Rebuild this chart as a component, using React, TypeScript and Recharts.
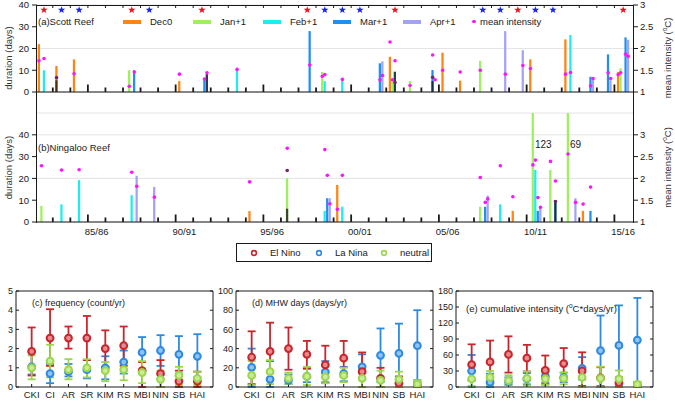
import React from 'react';
import {
  ComposedChart, ScatterChart, Bar, Cell, Scatter, XAxis, YAxis,
  CartesianGrid, LabelList, ErrorBar,
} from 'recharts';

const FONT = '"Liberation Sans", Arial, Helvetica, sans-serif';
const INK = '#1a1a1a';

// seasons counted from 1982/83 (0) to 2015/16 (33)
const FIRST_SEASON = 1982;
const MONTHS = ['Dec0', 'Jan+1', 'Feb+1', 'Mar+1', 'Apr+1'];
const MONTH_COLORS = ['#ff8412', '#9ef05c', '#1aeef0', '#1f8ff0', '#a2a2f6'];

const EL_NINO_SEASONS = [0, 5, 9, 15, 20, 27, 33];
const LA_NINA_SEASONS = [1, 2, 6, 16, 17, 18, 25, 26, 28, 29];

// Scott Reef, [season, duration days]
const scottDec = [[0, 22], [1, 12], [2, 15], [8, 5], [20, 16.2], [23, 18.1], [24, 5.2], [28, 15], [30, 24.2], [33, 9.2]];
const scottJan = [[5, 10], [16, 9.2], [20, 5], [21, 5], [25, 14.3], [33, 10.9]];
const scottFeb = [[0, 10], [11, 10.5], [16, 5], [17, 5.8], [20, 9.3], [30, 26.2]];
const scottMar = [[5, 10], [9, 6.5], [15, 28], [19, 13.2], [22, 10.1], [31, 7], [32, 17.3], [33, 25.1]];
const scottApr = [[9, 8.2], [19, 14.1], [26, 28], [27, 19.2], [31, 6.3], [32, 5.4], [33, 24]];
// [season, month, days]
const scottDark = [[1, 0, 5.4], [9, 4, 8.2], [20, 2, 9.3], [22, 3, 5]];
// [season, month, mean intensity degC]
const scottIntensity = [
  [0, 0, 1.72], [0, 2, 1.77], [2, 0, 1.42], [5, 1, 1.13], [5, 3, 1.46], [8, 0, 1.41], [9, 3, 1.3], [9, 4, 1.44],
  [11, 2, 1.52], [15, 3, 1.62], [16, 1, 1.36], [16, 2, 1.4], [17, 2, 1.29], [19, 3, 1.28], [19, 4, 1.38],
  [20, 0, 2.15], [20, 1, 1.28], [20, 2, 1.72], [21, 1, 1.15], [22, 3, 1.85], [22, 4, 1.28], [23, 0, 1.5],
  [24, 0, 1.46], [25, 1, 1.5], [26, 4, 1.41], [27, 4, 1.61], [28, 0, 1.54], [30, 0, 1.41], [30, 2, 1.45],
  [31, 3, 1.14], [31, 4, 1.31], [32, 3, 1.44], [32, 4, 1.31], [33, 0, 1.4], [33, 1, 1.44], [33, 3, 1.87], [33, 4, 1.82],
];
const scottIntensityDark = [[1, 0, 1.33], [20, 2, 1.22], [22, 3, 1.34]];

// Ningaloo Reef
const ningDec = [[12, 5], [17, 17], [27, 5.1], [31, 5.1]];
const ningJan = [[0, 7.4], [14, 20], [25, 7], [28, 123], [29, 23.9], [30, 69]];
const ningFeb = [[1, 8.1], [2, 19.2], [5, 12.3], [16, 5.1], [17, 7], [26, 8.1], [28, 23.9]];
const ningMar = [[16, 10.9], [25, 7], [28, 5.1], [29, 10.1], [31, 5.1]];
const ningApr = [[5, 21.2], [6, 16.1], [16, 10.9], [25, 12.1], [28, 6.6], [30, 10.9]];
const ningDark = [[14, 1, 6.1], [29, 3, 10.1]];
const ningIntensity = [
  [0, 1, 2.29], [1, 2, 2.19], [2, 2, 2.2], [5, 2, 2.14], [5, 4, 1.82], [6, 4, 1.57], [12, 0, 1.92], [14, 1, 2.69],
  [16, 2, 2.66], [16, 3, 2.07], [16, 4, 1.42], [17, 0, 1.29], [17, 2, 2.07], [25, 1, 2.02], [25, 3, 1.45],
  [25, 4, 1.53], [26, 2, 2.29], [27, 0, 1.58], [28, 1, 2.31], [28, 2, 2.42], [28, 3, 1.56], [28, 4, 1.34],
  [29, 1, 2.39], [29, 3, 1.94], [30, 1, 2.56], [30, 4, 1.45], [31, 0, 1.41], [31, 3, 1.8],
];
const ningIntensityDark = [[14, 1, 2.18], [29, 3, 1.47]];

// lower panels
const SITES = ['CKI', 'CI', 'AR', 'SR', 'KIM', 'RS', 'MBI', 'NIN', 'SB', 'HAI'];

const freqElNino = [1.85, 2.55, 2.55, 2.55, 2.0, 2.15, 0.85, 0.7, 0.3, 0.3];
const freqElNinoLow = [0.6, 1.1, 2.0, 1.4, 1.05, 1.1, 0, 0, 0, 0];
const freqElNinoHigh = [3.1, 4.05, 3.15, 3.7, 2.95, 3.15, 1.3, 1.4, 0.85, 0.8];
const freqLaNina = [1.05, 0.7, 0.8, 0.9, 1.0, 1.3, 1.8, 1.9, 1.7, 1.6];
const freqLaNinaLow = [0.65, 0.2, 0.55, 0.45, 0.4, 0.7, 0.85, 1.1, 0.7, 0.5];
const freqLaNinaHigh = [1.85, 1.2, 1.2, 1.4, 1.6, 1.9, 2.6, 2.7, 2.65, 2.75];
const freqNeutral = [1.0, 1.35, 0.9, 1.0, 0.85, 0.9, 0.75, 0.4, 0.6, 0.45];
const freqNeutralLow = [0.4, 0.5, 0.4, 0.5, 0.3, 0.35, 0.2, 0, 0.1, 0.1];
const freqNeutralHigh = [1.65, 2.2, 1.45, 1.45, 1.3, 1.3, 1.35, 0.85, 1.05, 0.8];

const daysElNino = [31, 37, 40, 34, 23, 30, 16, 9, 4, 2];
const daysElNinoLow = [3, 8, 18, 19, 4, 11, 0, 0, 0, 0];
const daysElNinoHigh = [58, 67, 62, 48, 43, 48, 36, 20, 11, 5];
const daysLaNina = [20.5, 8, 7, 11, 15.5, 14, 21, 33, 35, 43];
const daysLaNinaLow = [0, 0, 3, 5, 5, 6, 8, 5, 5, 7];
const daysLaNinaHigh = [40, 27, 13, 20, 27, 21, 34, 61, 66, 80];
const daysNeutral = [12, 16, 9, 11, 10.5, 12, 9, 7, 8, 3];
const daysNeutralLow = [2, 3, 3, 2, 4, 5, 0, 0, 0, 0];
const daysNeutralHigh = [27, 28, 15, 21, 17, 20, 19, 17, 16, 7];

const cumElNino = [42, 47, 61, 54, 31, 44, 30, 17, 8, 2];
const cumElNinoLow = [12, 8, 27, 29, 5, 17, 2, 0, 0, 0];
const cumElNinoHigh = [80, 87, 95, 79, 59, 73, 65, 37, 18, 6];
const cumLaNina = [30, 9, 10, 15, 20, 18, 35, 68, 78, 88];
const cumLaNinaLow = [0, 0, 4, 5, 8, 9, 14, 2, 2, 9];
const cumLaNinaHigh = [60, 25, 18, 26, 34, 27, 56, 134, 153, 167];
const cumNeutral = [15, 18, 12, 16, 15, 16, 18, 16, 15, 5];
const cumNeutralLow = [2, 4, 4, 3, 4, 5, 0, 0, 0, 0];
const cumNeutralHigh = [30, 30, 22, 29, 27, 27, 36, 38, 31, 10];

const EN_COLOR = '#c8262c';
const LN_COLOR = '#2d8ae0';
const NEU_COLOR = '#9bd64c';

// ---------- helpers ----------
const X_DOMAIN: [number, number] = [-0.4, 33.56];
const PX_PER_SEASON = 596 / (X_DOMAIN[1] - X_DOMAIN[0]);
const BOUNDARIES = Array.from({ length: 33 }, (_, i) => i + 0.5);
const slotX = (season: number, month: number) => season + (month - 2) / 7;
const yy = (n: number) => String(n % 100).padStart(2, '0');
const seasonLabel = (k: number) => `${yy(FIRST_SEASON + k)}/${yy(FIRST_SEASON + k + 1)}`;

const buildRows = (months: number[][][], dark: number[][]) => {
  const rows: any[] = [];
  months.forEach((list, m) => list.forEach(([s, d]) => rows.push({ x: slotX(s, m), days: d, fill: MONTH_COLORS[m], op: 1 })));
  dark.forEach(([s, m, d]) => rows.push({ x: slotX(s, m), days: d, fill: '#111111', op: 0.75 }));
  return rows;
};
const buildDots = (list: number[][]) => list.map(([s, m, v]) => ({ x: slotX(s, m), v }));

const scottRows = buildRows([scottDec, scottJan, scottFeb, scottMar, scottApr], scottDark);
const ningRows = buildRows([ningDec, ningJan, ningFeb, ningMar, ningApr], ningDark);

const YearTick = (props: any) => {
  const { x, y, payload, topY, withLabel } = props;
  const k = Math.round(payload.value + 0.5);
  const major = k % 5 === 3;
  return (
    <g>
      <line x1={x} x2={x} y1={y} y2={y - (major ? 7.5 : 4.5)} stroke={INK} strokeWidth={1.8} />
      {topY != null && <line x1={x} x2={x} y1={topY} y2={topY + 3} stroke={INK} strokeWidth={1} />}
      {withLabel && major && (
        <text x={x + PX_PER_SEASON / 2} y={y + 13} textAnchor="middle" fontSize={9.5} fontFamily={FONT} fill={INK}>
          {seasonLabel(k)}
        </text>
      )}
    </g>
  );
};

const MagentaDot = (p: any) => <circle cx={p.cx} cy={p.cy} r={1.8} fill={p.color} />;

const Star = (p: any) => {
  const pts: string[] = [];
  for (let i = 0; i < 10; i++) {
    const r = i % 2 === 0 ? 3.8 : 1.6;
    const a = -Math.PI / 2 + (i * Math.PI) / 5;
    pts.push(`${p.cx + r * Math.cos(a)},${p.cy + r * Math.sin(a)}`);
  }
  return <polygon points={pts.join(' ')} fill={p.color} />;
};

const RotTitle = (props: any) => {
  const { viewBox, dx, dy, right } = props;
  const cx = viewBox.x + dx;
  const cy = viewBox.y + viewBox.height / 2 + dy;
  return (
    <text x={cx} y={cy} transform={`rotate(-90 ${cx} ${cy})`} textAnchor="middle" dominantBaseline="central"
      fontSize={9.5} fontFamily={FONT} fill="#333">
      {right ? (
        <>
          <tspan>mean intensity (</tspan>
          <tspan dy={-3} fontSize={6.5}>o</tspan>
          <tspan dy={3}>C)</tspan>
        </>
      ) : 'duration (days)'}
    </text>
  );
};

const tickStyle = { fontSize: 9.5, fill: INK, fontFamily: FONT };

function ReefPanel(props: any) {
  const { rows, dots, darkDots, top, height, marginTop, xHeight, yMax, rMax, stars, labels, titleDy } = props;
  const starData = [
    ...EL_NINO_SEASONS.map((s) => ({ x: s, y: 37.7, c: '#e8141e' })),
    ...LA_NINA_SEASONS.map((s) => ({ x: s, y: 37.7, c: '#1a22ee' })),
  ];
  return (
    <div style={{ position: 'absolute', left: 0, top, width: 675, height }}>
      <ComposedChart width={675} height={height} data={rows} margin={{ top: marginTop, right: 0, bottom: 0, left: 0 }}>
        <CartesianGrid vertical={false} stroke="#e4e4e4" />
        <XAxis type="number" dataKey="x" domain={X_DOMAIN} allowDataOverflow ticks={BOUNDARIES} interval={0}
          height={xHeight} tickSize={0} tickMargin={0} tickLine={false} axisLine={{ stroke: INK }}
          tick={<YearTick topY={stars ? marginTop : undefined} withLabel={labels} />} />
        <YAxis type="number" domain={[0, yMax]} allowDataOverflow ticks={[0, 10, 20, 30, 40]} width={37}
          tickSize={5} tickMargin={3} axisLine={false} tickLine={{ stroke: INK }} tick={tickStyle}
          label={<RotTitle dx={8} dy={titleDy} />} />
        <YAxis yAxisId="r" orientation="right" type="number" domain={[1, rMax]} allowDataOverflow
          ticks={[1, 1.5, 2, 2.5, 3]} width={42} tickSize={5} tickMargin={2} axisLine={false}
          tickLine={{ stroke: INK }} tick={tickStyle} label={<RotTitle dx={34} dy={titleDy} right />} />
        <Bar dataKey="days" barSize={3} isAnimationActive={false}>
          {rows.map((r: any, i: number) => <Cell key={i} fill={r.fill} fillOpacity={r.op} />)}
          <LabelList dataKey="days" content={(p: any) => (p.value > yMax ? (
            <text x={p.x + p.width + 1} y={marginTop + 35} fontSize={10} fontFamily={FONT} fill={INK}>{p.value}</text>
          ) : null)} />
        </Bar>
        <Scatter yAxisId="r" data={buildDots(dots)} dataKey="v" shape={<MagentaDot color="#ff14ff" />} isAnimationActive={false} />
        <Scatter yAxisId="r" data={buildDots(darkDots)} dataKey="v" shape={<MagentaDot color="#6a2a66" />} isAnimationActive={false} />
        {stars && (
          <Scatter data={starData} dataKey="y" isAnimationActive={false}
            shape={(p: any) => <Star cx={p.cx} cy={p.cy} color={p.payload.c} />} />
        )}
      </ComposedChart>
    </div>
  );
}

const Ring = (p: any) => <circle cx={p.cx} cy={p.cy} r={3.4} fill={p.light} stroke={p.color} strokeWidth={2} />;

const series = (v: number[], lo: number[], hi: number[]) =>
  v.map((y, i) => ({ x: i + 1, y, err: [y - lo[i], hi[i] - y] }));

const CAT_TICKS = SITES.map((_, i) => i + 1);
const CAT_DOMAIN: [number, number] = [0.15, 10.85];

function EnsoPanel(props: any) {
  const { plotLeft, yMax, yTicks, en, ln, nu } = props;
  const groups = [
    { data: ln, color: LN_COLOR, light: '#8fc3f2' },
    { data: en, color: EN_COLOR, light: '#e58a8d' },
    { data: nu, color: NEU_COLOR, light: '#c9ec98' },
  ];
  return (
    <div style={{ position: 'absolute', left: plotLeft - 26, top: 285, width: 235, height: 127 }}>
      <ScatterChart width={235} height={127} margin={{ top: 5, right: 11, bottom: 0, left: 0 }}>
        <XAxis xAxisId="b" type="number" dataKey="x" domain={CAT_DOMAIN} allowDataOverflow ticks={CAT_TICKS}
          interval={0} tickFormatter={(v: number) => SITES[v - 1]} height={25} tickSize={-3} tickMargin={7}
          axisLine={{ stroke: INK }} tickLine={{ stroke: INK }} tick={{ ...tickStyle, fontSize: 9.5 }} />
        <XAxis xAxisId="t" orientation="top" type="number" domain={CAT_DOMAIN} allowDataOverflow ticks={CAT_TICKS}
          interval={0} height={1} tickSize={-3} axisLine={{ stroke: INK }} tickLine={{ stroke: INK }} tick={() => <g />} />
        <YAxis yAxisId="l" type="number" dataKey="y" domain={[0, yMax]} allowDataOverflow ticks={yTicks} interval={0}
          width={26} tickSize={-3} tickMargin={6} axisLine={{ stroke: INK }} tickLine={{ stroke: INK }}
          tick={{ ...tickStyle, fontSize: 9 }} />
        <YAxis yAxisId="r" orientation="right" type="number" domain={[0, yMax]} allowDataOverflow ticks={yTicks}
          interval={0} width={1} tickSize={-3} axisLine={{ stroke: INK }} tickLine={{ stroke: INK }} tick={() => <g />} />
        {groups.map((g, i) => (
          <Scatter key={i} xAxisId="b" yAxisId="l" data={g.data} isAnimationActive={false}
            shape={<Ring color={g.color} light={g.light} />}>
            <ErrorBar dataKey="err" direction="y" width={4} stroke={g.color} strokeWidth={1.8} />
          </Scatter>
        ))}
      </ScatterChart>
    </div>
  );
}

const textBase: React.CSSProperties = { position: 'absolute', fontFamily: FONT, color: INK, whiteSpace: 'nowrap', lineHeight: '11px' };

export default function App() {
  return (
    <div style={{ position: 'absolute', left: 0, top: 0, width: 675, height: 412, background: '#fff', overflow: 'hidden' }}>
      <ReefPanel rows={scottRows} dots={scottIntensity} darkDots={scottIntensityDark} top={0} height={100}
        marginTop={5} xHeight={8} yMax={40} rMax={3} stars labels={false} titleDy={9.5} />
      <ReefPanel rows={ningRows} dots={ningIntensity} darkDots={ningIntensityDark} top={100} height={142}
        marginTop={13} xHeight={20} yMax={50} rMax={3.5} stars={false} labels titleDy={0} />

      {/* frame of the two reef panels */}
      <div style={{ position: 'absolute', left: 36, top: 4.5, width: 598, height: 218, boxSizing: 'border-box',
        borderLeft: `1px solid ${INK}`, borderRight: `1px solid ${INK}`, borderTop: `1px solid ${INK}` }} />

      <div style={{ ...textBase, left: 38, top: 15.5, fontSize: 9.5 }}>(a)Scott Reef</div>
      <div style={{ ...textBase, left: 38, top: 141.5, fontSize: 9.5 }}>(b)Ningaloo Reef</div>

      {MONTHS.map((m, i) => (
        <React.Fragment key={m}>
          <div style={{ position: 'absolute', left: 123 + 70 * i, top: 19.5, width: 18, height: 4, background: MONTH_COLORS[i] }} />
          <div style={{ ...textBase, left: 150 + 70 * i, top: 15.5, fontSize: 9.5 }}>{m}</div>
        </React.Fragment>
      ))}
      <div style={{ position: 'absolute', left: 472, top: 19.5, width: 3.6, height: 3.6, borderRadius: 2, background: '#ff14ff' }} />
      <div style={{ ...textBase, left: 480, top: 15.5, fontSize: 9.5 }}>mean intensity</div>

      {/* ENSO legend */}
      <div style={{ position: 'absolute', left: 236, top: 243, width: 196, height: 19, boxSizing: 'border-box', border: `1px solid ${INK}` }}>
        {[['El Nino', EN_COLOR], ['La Nina', LN_COLOR], ['neutral', NEU_COLOR]].map(([t, c], i) => (
          <React.Fragment key={t}>
            <svg style={{ position: 'absolute', left: 12 + 65 * i, top: 3.5, width: 10, height: 10 }}>
              <circle cx={5} cy={5} r={2.4} fill="none" stroke={c} strokeWidth={1.6} />
            </svg>
            <div style={{ ...textBase, left: 33 + 65 * i, top: 3, fontSize: 9.5 }}>{t}</div>
          </React.Fragment>
        ))}
      </div>

      <EnsoPanel plotLeft={16} yMax={5} yTicks={[0, 1, 2, 3, 4, 5]}
        en={series(freqElNino, freqElNinoLow, freqElNinoHigh)}
        ln={series(freqLaNina, freqLaNinaLow, freqLaNinaHigh)}
        nu={series(freqNeutral, freqNeutralLow, freqNeutralHigh)} />
      <EnsoPanel plotLeft={236} yMax={100} yTicks={[0, 20, 40, 60, 80, 100]}
        en={series(daysElNino, daysElNinoLow, daysElNinoHigh)}
        ln={series(daysLaNina, daysLaNinaLow, daysLaNinaHigh)}
        nu={series(daysNeutral, daysNeutralLow, daysNeutralHigh)} />
      <EnsoPanel plotLeft={456} yMax={180} yTicks={[0, 30, 60, 90, 120, 150, 180]}
        en={series(cumElNino, cumElNinoLow, cumElNinoHigh)}
        ln={series(cumLaNina, cumLaNinaLow, cumLaNinaHigh)}
        nu={series(cumNeutral, cumNeutralLow, cumNeutralHigh)} />

      <div style={{ ...textBase, left: 32, top: 298, fontSize: 9 }}>(c) frequency (count/yr)</div>
      <div style={{ ...textBase, left: 252, top: 298, fontSize: 9 }}>(d) MHW days (days/yr)</div>
      <div style={{ ...textBase, left: 466, top: 300, fontSize: 9.5 }}>
        (e) cumulative intensity (<sup style={{ fontSize: 6.5, verticalAlign: '4px' }}>o</sup>C*days/yr)
      </div>
    </div>
  );
}
